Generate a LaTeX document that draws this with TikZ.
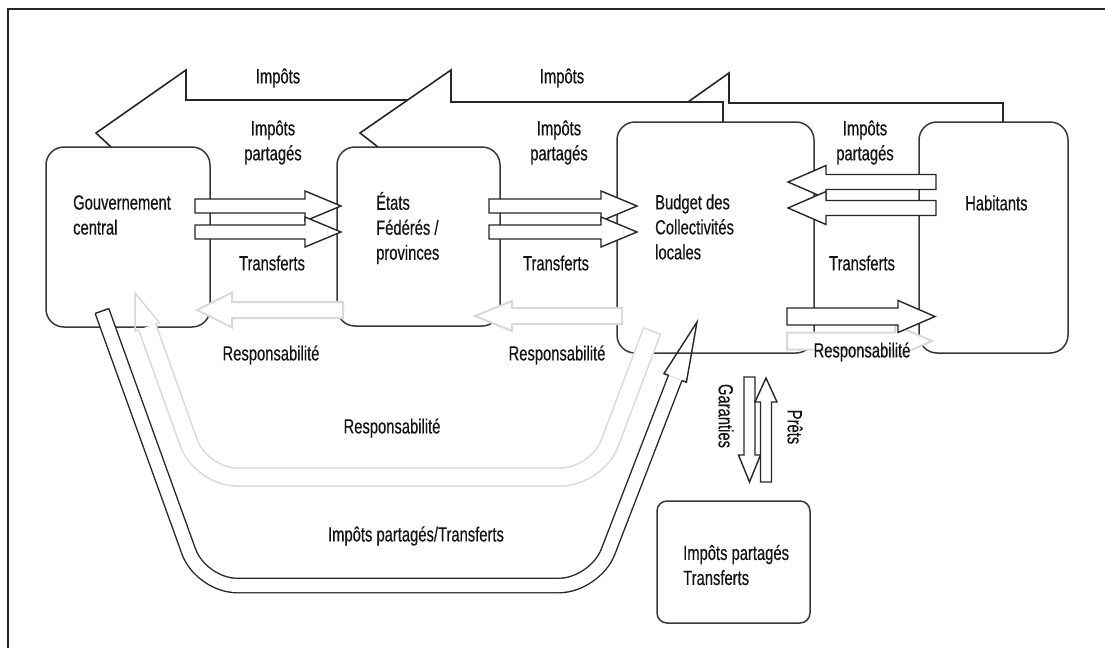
\documentclass[tikz,border=0pt]{standalone}
\usepackage{fontspec}
\setmainfont{Liberation Sans}[FakeStretch=0.72, FakeBold=0.4]
\usetikzlibrary{calc}

% fat outlined arrow: style, tail, angle, length, body half, head half, head length
\newcommand{\fatarrow}[7]{%
  \filldraw[#1,shift={#2},rotate=#3] (0,-#5) -- ({#4-#7},-#5) -- ({#4-#7},-#6) -- (#4,0)
    -- ({#4-#7},#6) -- ({#4-#7},#5) -- (0,#5) -- cycle;}

\begin{document}
\begin{tikzpicture}[x=1pt, y=-1pt, line join=miter,
    box/.style={draw=black!78, line width=1.5pt, rounded corners=18pt, inner sep=0pt},
    lbl/.style={font=\fontsize{20.5}{25}\selectfont, text=black!92, inner sep=0pt, align=center},
    fat/.style={draw=black!85, fill=white, line width=1.4pt},
    pale/.style={draw=black!15, fill=white, line width=2pt},
    ribbon/.style={draw=black!85, line width=1.6pt}]
	\useasboundingbox (0,0) rectangle (1105,648);
	\draw [black!85, line width=1.3pt] (1105,9) -- (8,9) -- (8,648);
	% Impots
	\draw [ribbon] (408,100) -- (186,100) -- (186,70) -- (96,133) -- (111,147);
	\draw [ribbon] (1003,122) -- (1003,103) -- (729,103) -- (729,73) -- (688,102);
	\draw [ribbon] (723,122) -- (723,102) -- (451,102) -- (451,70) -- (360,133) -- (378,147);
	% boxes
	\node [box, minimum width=164pt, minimum height=180pt] (gouv) at (128,237) {};
	\node [box, minimum width=163pt, minimum height=179pt] (etats) at (418.5,236.5) {};
	\node [box, minimum width=197pt, minimum height=231pt] (budget) at (715.5,237.5) {};
	\node [box, minimum width=149pt, minimum height=231pt] (habit) at (993.5,237.5) {};
	\node [box, rounded corners=10pt, minimum width=153pt, minimum height=122pt] (autres) at (733.5,562) {};
	% Impots partages/Transferts
	\draw [draw=black!85, line width=1.4pt, double=white, double distance=13pt, rounded corners=36pt]
		(102,311) -- (201,585.5) -- (595,585.5) -- (675.2,377.9);
	\draw [black!85, line width=1.4pt] (95.2,313.4) -- (108.8,308.6);
	\draw [black!85, line width=1.4pt] (668.5,375.3) -- (664,373.5) -- (697,322) -- (686.4,382.3) -- (681.9,380.5);
	% Responsabilite, big loop
	\draw [draw=black!15, line width=1.5pt, double=white, double distance=16.5pt, rounded corners=36pt]
		(652,331) -- (597,477) -- (201,477) -- (147.2,326.9);
	\draw [black!15, line width=1.5pt] (643.6,327.8) -- (660.4,334.2);
	\draw [black!15, line width=1.5pt] (155.7,323.9) -- (159.4,322.5) -- (135,293) -- (135,331.3) -- (138.7,329.9);
	% arrows between boxes
	\fatarrow{fat}{(195,206)}{0}{146}{7}{15}{36}
	\fatarrow{fat}{(195,232)}{0}{146}{7}{15}{36}
	\fatarrow{fat}{(489,206)}{0}{148}{7}{15}{36}
	\fatarrow{fat}{(489,232)}{0}{148}{7}{15}{36}
	\fatarrow{fat}{(936,182)}{180}{148}{7.5}{16.5}{38}
	\fatarrow{fat}{(936,208)}{180}{148}{7.5}{16.5}{38}
	\fatarrow{pale}{(787,341)}{0}{145}{8.5}{16}{37}
	\fatarrow{fat}{(787,316.5)}{0}{148}{8.5}{16}{37}
	\fatarrow{pale}{(343,310)}{180}{146}{8}{17.5}{35}
	\fatarrow{pale}{(622,316)}{180}{147}{8}{15}{37}
	\fatarrow{fat}{(749.5,377)}{-90}{105}{5.5}{11}{27}
	\fatarrow{fat}{(766,482)}{90}{104}{5.5}{11}{24}
	% labels
	\node [lbl] (impa) at (278,78) {Impôts};
	\node [lbl] (impb) at (562,78) {Impôts};
	\node [lbl] (ipa) at (273,142.5) {Impôts\\partagés};
	\node [lbl] (ipb) at (559,142.5) {Impôts\\partagés};
	\node [lbl] (ipc) at (865,142.5) {Impôts\\partagés};
	\node [lbl] (tra) at (272,263) {Transferts};
	\node [lbl] (trb) at (556,263) {Transferts};
	\node [lbl] (trc) at (862,263) {Transferts};
	\node [lbl] (resa) at (271,355) {Responsabilité};
	\node [lbl] (resb) at (557,355) {Responsabilité};
	\node [lbl] (resc) at (862,352) {Responsabilité};
	\node [lbl] (resm) at (392,428) {Responsabilité};
	\node [lbl] (ipt) at (416,536) {Impôts partagés/Transferts};
	\node [lbl, rotate=-90] (gar) at (726,416) {Garanties};
	\node [lbl, rotate=-90] (prets) at (795,427) {Prêts};
	\node [lbl, align=left, anchor=west] (gouvt) at (73,215) {Gouvernement\\central};
	\node [lbl, align=left, anchor=west] (etatst) at (376,228) {États\\Fédérés /\\provinces};
	\node [lbl, align=left, anchor=west] (budgett) at (655,227) {Budget des\\Collectivités\\locales};
	\node [lbl, anchor=west] (habitt) at (965,203) {Habitants};
	\node [lbl, align=left, anchor=west] (autrest) at (683,565) {Impôts partagés\\Transferts};
\end{tikzpicture}
\end{document}
